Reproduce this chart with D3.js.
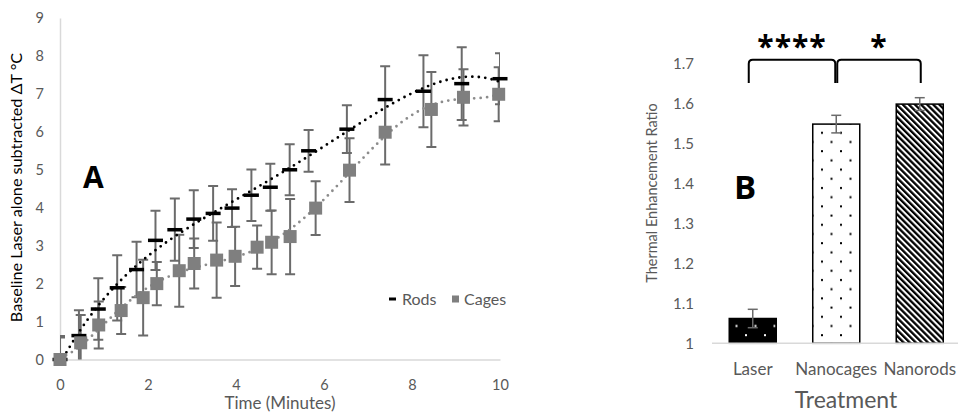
<!DOCTYPE html>
<html>
<head>
<meta charset="utf-8">
<script src="https://cdn.jsdelivr.net/npm/d3@7"></script>
<style>
  body { margin: 0; background: #fff; }
  text { font-family: Lato, "Open Sans", sans-serif; }
</style>
</head>
<body>
<div id="chart"></div>
<script>
// panel A : temperature rise over time
var rodTimes = [0, 0.43, 0.87, 1.30, 1.74, 2.17, 2.61, 3.04, 3.48, 3.91, 4.35, 4.78, 5.22, 5.65, 6.52, 7.39, 8.26, 9.13, 10];
var rodTemps = [0, 0.63, 1.33, 1.89, 2.37, 3.14, 3.42, 3.70, 3.85, 3.99, 4.33, 4.54, 5.00, 5.50, 6.07, 6.85, 7.07, 7.27, 7.40];
var rodErrors = [0.62, 0.67, 0.81, 0.86, 0.73, 0.78, 0.82, 0.76, 0.72, 0.50, 0.68, 0.62, 0.67, 0.55, 0.63, 0.88, 0.95, 0.96, 0.67];

var cageTimes = [0, 0.47, 0.88, 1.39, 1.89, 2.20, 2.71, 3.05, 3.56, 3.98, 4.48, 4.81, 5.23, 5.81, 6.58, 7.39, 8.44, 9.17, 9.97];
var cageTemps = [0, 0.44, 0.91, 1.29, 1.63, 2.00, 2.34, 2.53, 2.62, 2.72, 2.96, 3.09, 3.24, 3.99, 4.99, 5.99, 6.59, 6.91, 6.99];
var cageErrors = [0.58, 0.73, 0.62, 0.62, 1.00, 0.57, 0.95, 0.66, 0.99, 0.78, 0.57, 0.84, 0.99, 0.71, 0.84, 0.85, 0.99, 0.74, 0.71];

var tempTicks = [0, 1, 2, 3, 4, 5, 6, 7, 8, 9];
var timeTicks = [0, 2, 4, 6, 8, 10];

// panel B : thermal enhancement ratio
var treatments = ["Laser", "Nanocages", "Nanorods"];
var ratios = [1.062, 1.548, 1.598];
var ratioErrors = [0.023, 0.022, 0.016];
var ratioTicks = [1, 1.1, 1.2, 1.3, 1.4, 1.5, 1.6, 1.7];
var significance = [
  { from: "Laser", to: "Nanocages", label: "****" },
  { from: "Nanocages", to: "Nanorods", label: "*" }
];

var width = 958;
var height = 414;
var axisGrey = "#d9d9d9";
var textGrey = "#595959";
var barGrey = "#6b6b6b";

var svg = d3.select("#chart").append("svg")
  .attr("width", width)
  .attr("height", height);

svg.append("rect").attr("width", width).attr("height", height).attr("fill", "#fff");

// least squares polynomial, like the excel trendline
function polyFit(xs, ys, deg) {
  var n = deg + 1;
  var A = [], b = [];
  for (var i = 0; i < n; i++) { A.push(new Array(n).fill(0)); b.push(0); }
  xs.forEach(function(x, k) {
    var t = x / 10, p = [];
    for (var j = 0; j < n; j++) p.push(Math.pow(t, j));
    for (var i = 0; i < n; i++) {
      for (var j = 0; j < n; j++) A[i][j] += p[i] * p[j];
      b[i] += p[i] * ys[k];
    }
  });
  for (var c = 0; c < n; c++) {
    var piv = c;
    for (var r = c + 1; r < n; r++) if (Math.abs(A[r][c]) > Math.abs(A[piv][c])) piv = r;
    var tmp = A[c]; A[c] = A[piv]; A[piv] = tmp;
    var tb = b[c]; b[c] = b[piv]; b[piv] = tb;
    for (var r = c + 1; r < n; r++) {
      var f = A[r][c] / A[c][c];
      for (var j = c; j < n; j++) A[r][j] -= f * A[c][j];
      b[r] -= f * b[c];
    }
  }
  var coef = new Array(n).fill(0);
  for (var r = n - 1; r >= 0; r--) {
    var s = b[r];
    for (var j = r + 1; j < n; j++) s -= A[r][j] * coef[j];
    coef[r] = s / A[r][r];
  }
  return function(x) {
    var t = x / 10, v = 0;
    for (var j = n - 1; j >= 0; j--) v = v * t + coef[j];
    return v;
  };
}

// ---------- panel A ----------
var xScale = d3.scaleLinear().domain([0, 10]).range([60, 500]);
var yScale = d3.scaleLinear().domain([0, 9]).range([359.5, 18]);

var rods = rodTimes.map(function(t, i) { return { t: t, v: rodTemps[i], e: rodErrors[i] }; });
var cages = cageTimes.map(function(t, i) { return { t: t, v: cageTemps[i], e: cageErrors[i] }; });

svg.append("clipPath").attr("id", "plotA")
  .append("rect")
  .attr("x", xScale(0)).attr("y", yScale(9))
  .attr("width", xScale(10) - xScale(0))
  .attr("height", yScale(0) - yScale(9));

var gA = svg.append("g");

var yAxisA = d3.axisLeft(yScale).tickValues(tempTicks).tickSize(0).tickPadding(16);
var xAxisA = d3.axisBottom(xScale).tickValues(timeTicks).tickSize(0).tickPadding(20);

gA.append("g").attr("transform", "translate(" + xScale(0) + ",0)").call(yAxisA);
gA.append("g").attr("transform", "translate(0," + yScale(0) + ")").call(xAxisA);

gA.selectAll(".domain").attr("stroke", axisGrey).attr("stroke-width", 1.5);
gA.selectAll(".tick text").attr("fill", textGrey).style("font-size", "14.5px");

// error bars
var errG = gA.append("g").attr("clip-path", "url(#plotA)");

function drawErrors(data) {
  var g = errG.append("g").selectAll("g").data(data).enter().append("g");
  g.append("line")
    .attr("x1", function(d) { return xScale(d.t); })
    .attr("x2", function(d) { return xScale(d.t); })
    .attr("y1", function(d) { return yScale(d.v + d.e); })
    .attr("y2", function(d) { return yScale(d.v - d.e); });
  [1, -1].forEach(function(s) {
    g.append("line")
      .attr("x1", function(d) { return xScale(d.t) - 5; })
      .attr("x2", function(d) { return xScale(d.t) + 5; })
      .attr("y1", function(d) { return yScale(d.v + s * d.e); })
      .attr("y2", function(d) { return yScale(d.v + s * d.e); });
  });
  g.selectAll("line").attr("stroke", barGrey).attr("stroke-width", 2);
}
drawErrors(rods);
drawErrors(cages);

// trendlines
var samples = d3.range(0, 10.0001, 0.05);
var rodFit = polyFit(rodTimes, rodTemps, 4);
var cageFit = polyFit(cageTimes, cageTemps, 6);
var line = d3.line()
  .x(function(d) { return xScale(d[0]); })
  .y(function(d) { return yScale(d[1]); });

gA.append("path")
  .attr("d", line(samples.map(function(t) { return [t, rodFit(t)]; })))
  .attr("fill", "none").attr("stroke", "#000").attr("stroke-width", 2.8)
  .attr("stroke-linecap", "round").attr("stroke-dasharray", "0,6.5");

gA.append("path")
  .attr("d", line(samples.map(function(t) { return [t, cageFit(t)]; })))
  .attr("fill", "none").attr("stroke", "#8c8c8c").attr("stroke-width", 2.8)
  .attr("stroke-linecap", "round").attr("stroke-dasharray", "0,6.5");

// markers
gA.append("g").selectAll("rect").data(rods).enter().append("rect")
  .attr("x", function(d) { return xScale(d.t) - 7.5; })
  .attr("y", function(d) { return yScale(d.v) - 1.75; })
  .attr("width", 15).attr("height", 3.5)
  .attr("fill", "#000");

gA.append("g").selectAll("rect").data(cages).enter().append("rect")
  .attr("x", function(d) { return xScale(d.t) - 6.5; })
  .attr("y", function(d) { return yScale(d.v) - 6.5; })
  .attr("width", 13).attr("height", 13)
  .attr("fill", "#7f7f7f");

// legend
var legA = gA.append("g").attr("transform", "translate(389,299)");
legA.append("rect").attr("x", 0).attr("y", -1.5).attr("width", 7).attr("height", 3).attr("fill", "#000");
legA.append("text").attr("x", 13).attr("dy", "0.35em").attr("fill", textGrey).style("font-size", "16px").text("Rods");
legA.append("rect").attr("x", 63).attr("y", -3.5).attr("width", 7).attr("height", 7).attr("fill", "#7f7f7f");
legA.append("text").attr("x", 75).attr("dy", "0.35em").attr("fill", textGrey).style("font-size", "16px").text("Cages");

// titles
gA.append("text")
  .attr("transform", "translate(" + (xScale(5)) + ",403.5)")
  .attr("text-anchor", "middle").attr("dy", "0.35em")
  .attr("fill", textGrey).style("font-size", "17px")
  .text("Time (Minutes)");

gA.append("text")
  .attr("transform", "translate(16,187.5) rotate(-90)")
  .attr("text-anchor", "middle").attr("dy", "0.35em")
  .attr("fill", "#000").style("font-size", "16.2px")
  .text("Baseline Laser alone subtracted \u0394T \u00b0C");

gA.append("text")
  .attr("x", 83).attr("y", 188)
  .style("font-family", "'Open Sans', sans-serif")
  .style("font-weight", "bold").style("font-size", "30px")
  .text("A");

// ---------- panel B ----------
var defs = svg.append("defs");

var dotsWhite = defs.append("pattern").attr("id", "dotsOnWhite")
  .attr("patternUnits", "userSpaceOnUse").attr("width", 19).attr("height", 18.4);
dotsWhite.append("rect").attr("width", 19).attr("height", 18.4).attr("fill", "#fff");
dotsWhite.append("rect").attr("x", 4).attr("y", 3).attr("width", 2).attr("height", 2).attr("fill", "#000");
dotsWhite.append("rect").attr("x", 13.5).attr("y", 12.2).attr("width", 2).attr("height", 2).attr("fill", "#000");

var dotsBlack = defs.append("pattern").attr("id", "dotsOnBlack")
  .attr("patternUnits", "userSpaceOnUse").attr("width", 19).attr("height", 18.4);
dotsBlack.append("rect").attr("width", 19).attr("height", 18.4).attr("fill", "#000");
dotsBlack.append("rect").attr("x", 4).attr("y", 3).attr("width", 2).attr("height", 2).attr("fill", "#fff");
dotsBlack.append("rect").attr("x", 13.5).attr("y", 12.2).attr("width", 2).attr("height", 2).attr("fill", "#fff");

var stripes = defs.append("pattern").attr("id", "stripes")
  .attr("patternUnits", "userSpaceOnUse").attr("width", 4.3).attr("height", 10)
  .attr("patternTransform", "rotate(-45)");
stripes.append("rect").attr("width", 4.3).attr("height", 10).attr("fill", "#fff");
stripes.append("rect").attr("width", 2.3).attr("height", 10).attr("fill", "#000");

var fills = { "Laser": "url(#dotsOnBlack)", "Nanocages": "url(#dotsOnWhite)", "Nanorods": "url(#stripes)" };

var xB = d3.scaleBand().domain(treatments).range([711, 961.5])
  .paddingInner(0.437).paddingOuter(0.2185);
var yB = d3.scaleLinear().domain([1, 1.8]).range([343.3, 23.3]);

var gB = svg.append("g");

var yAxisB = d3.axisLeft(yB).tickValues(ratioTicks).tickSize(0).tickPadding(0)
  .tickFormat(function(d) { return d3.format("")(+d.toFixed(1)); });
var yAxisBG = gB.append("g").attr("transform", "translate(694,0)").call(yAxisB);
yAxisBG.select(".domain").remove();
yAxisBG.selectAll(".tick text").attr("fill", textGrey).style("font-size", "15px");

var bars = treatments.map(function(t, i) { return { name: t, v: ratios[i], e: ratioErrors[i] }; });

gB.append("g").selectAll("rect").data(bars).enter().append("rect")
  .attr("x", function(d) { return xB(d.name); })
  .attr("y", function(d) { return yB(d.v); })
  .attr("width", xB.bandwidth())
  .attr("height", function(d) { return yB(1) - yB(d.v); })
  .attr("fill", function(d) { return fills[d.name]; })
  .attr("stroke", "#000").attr("stroke-width", 1.5);

var xAxisB = d3.axisBottom(xB).tickSize(0).tickPadding(20);
var xAxisBG = gB.append("g").attr("transform", "translate(0," + yB(1) + ")").call(xAxisB);
xAxisBG.select(".domain").attr("d", "M712,0H958").attr("stroke", axisGrey).attr("stroke-width", 1.5);
xAxisBG.selectAll(".tick text").attr("fill", textGrey).style("font-size", "17px");

var errB = gB.append("g").selectAll("g").data(bars).enter().append("g")
  .attr("transform", function(d) { return "translate(" + (xB(d.name) + xB.bandwidth() / 2) + ",0)"; });
errB.append("line").attr("y1", function(d) { return yB(d.v + d.e); }).attr("y2", function(d) { return yB(d.v - d.e); });
errB.append("line").attr("x1", -5).attr("x2", 5)
  .attr("y1", function(d) { return yB(d.v + d.e); }).attr("y2", function(d) { return yB(d.v + d.e); });
errB.append("line").attr("x1", -5).attr("x2", 5)
  .attr("y1", function(d) { return yB(d.v - d.e); }).attr("y2", function(d) { return yB(d.v - d.e); });
errB.selectAll("line").attr("stroke", barGrey).attr("stroke-width", 1.5);

// significance brackets
significance.forEach(function(s, i) {
  var x1 = xB(s.from) + xB.bandwidth() / 2 + (i === 0 ? -4 : 1);
  var x2 = xB(s.to) + xB.bandwidth() / 2 + (i === 0 ? -1 : 1);
  var top = yB(1.709), foot = yB(1.651), r = 4;
  gB.append("path")
    .attr("d", "M" + x1 + "," + foot + "V" + (top + r) + "Q" + x1 + "," + top + " " + (x1 + r) + "," + top +
      "H" + (x2 - r) + "Q" + x2 + "," + top + " " + x2 + "," + (top + r) + "V" + foot)
    .attr("fill", "none").attr("stroke", "#000").attr("stroke-width", 2);
  gB.append("text")
    .attr("x", (x1 + x2) / 2).attr("y", 57)
    .attr("text-anchor", "middle")
    .style("font-family", "'Open Sans', sans-serif")
    .style("font-size", "30px").style("font-weight", "bold")
    .style("letter-spacing", "1px")
    .text(s.label);
});

gB.append("text")
  .attr("transform", "translate(652,193) rotate(-90)")
  .attr("text-anchor", "middle").attr("dy", "0.35em")
  .attr("fill", textGrey).style("font-size", "14.5px")
  .text("Thermal Enhancement Ratio");

gB.append("text")
  .attr("x", 846).attr("y", 400).attr("dy", "0.35em")
  .attr("text-anchor", "middle")
  .attr("fill", textGrey).style("font-size", "23px")
  .text("Treatment");

gB.append("text")
  .attr("x", 734).attr("y", 199)
  .style("font-family", "'Open Sans', sans-serif")
  .style("font-weight", "bold").style("font-size", "33px")
  .text("B");
</script>
</body>
</html>
